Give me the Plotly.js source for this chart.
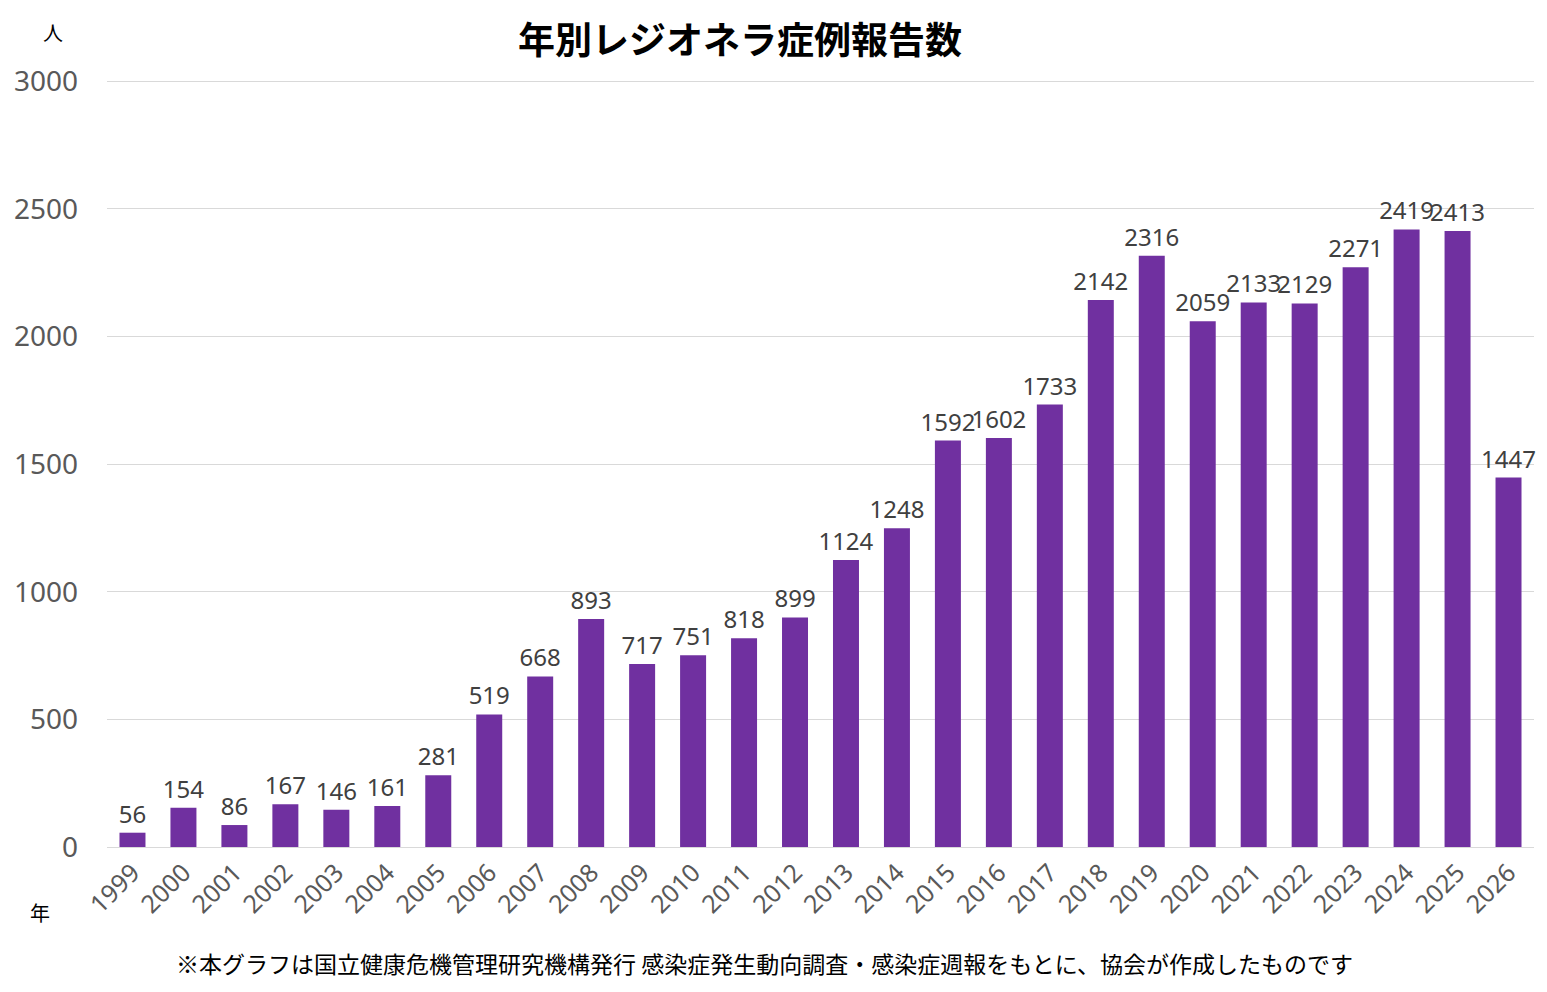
<!DOCTYPE html>
<html>
<head>
<meta charset="utf-8">
<script src="https://cdn.plot.ly/plotly-3.0.1.min.js"></script>
<style>
  html, body { margin: 0; padding: 0; background: #fff; }
  #plot { width: 1547px; height: 992px; }
</style>
</head>
<body>
<div id="plot"></div>
<script>
var years = ['1999','2000','2001','2002','2003','2004','2005','2006','2007','2008',
             '2009','2010','2011','2012','2013','2014','2015','2016','2017','2018',
             '2019','2020','2021','2022','2023','2024','2025','2026'];
var cases = [56, 154, 86, 167, 146, 161, 281, 519, 668, 893,
             717, 751, 818, 899, 1124, 1248, 1592, 1602, 1733, 2142,
             2316, 2059, 2133, 2129, 2271, 2419, 2413, 1447];
var yTicks = [0, 500, 1000, 1500, 2000, 2500, 3000];

var jpFont = '"Noto Sans CJK JP", "Noto Sans", sans-serif';
var numFont = '"Noto Sans", sans-serif';

var trace = {
  x: years,
  y: cases,
  type: 'bar',
  marker: { color: '#7030a0' },
  text: cases.map(String),
  textposition: 'outside',
  constraintext: 'none',
  cliponaxis: false,
  textfont: { family: numFont, size: 24, color: '#404040' },
  hoverinfo: 'x+y'
};

var layout = {
  width: 1547,
  height: 992,
  margin: { l: 107, r: 13, t: 78, b: 145 },
  paper_bgcolor: '#ffffff',
  plot_bgcolor: '#ffffff',
  bargap: 0.49,
  showlegend: false,
  font: { family: jpFont, color: '#595959' },
  xaxis: {
    type: 'category',
    tickangle: -45,
    tickfont: { family: numFont, size: 25, color: '#595959' },
    showgrid: false,
    showline: true,
    linecolor: '#d9d9d9',
    linewidth: 1,
    ticks: ''
  },
  yaxis: {
    range: [0, 3012],
    tickvals: yTicks,
    tickfont: { family: numFont, size: 28, color: '#595959' },
    showgrid: true,
    gridcolor: '#d9d9d9',
    gridwidth: 1,
    zeroline: false,
    showline: false,
    ticks: '',
    ticklabelstandoff: 28
  },
  annotations: [
    {
      text: '<b>年別レジオネラ症例報告数</b>',
      xref: 'paper', yref: 'paper',
      x: 0.4435, y: 1, yshift: 40,
      xanchor: 'center', yanchor: 'middle',
      showarrow: false,
      font: { family: jpFont, size: 37, color: '#000000' }
    },
    {
      text: '人',
      xref: 'paper', yref: 'paper',
      x: 0, xshift: -54, y: 1, yshift: 46,
      xanchor: 'center', yanchor: 'middle',
      showarrow: false,
      font: { family: jpFont, size: 20, color: '#000000' }
    },
    {
      text: '年',
      xref: 'paper', yref: 'paper',
      x: 0, xshift: -67, y: 0, yshift: -65,
      xanchor: 'center', yanchor: 'middle',
      showarrow: false,
      font: { family: jpFont, size: 20, color: '#000000' }
    },
    {
      text: '※本グラフは国立健康危機管理研究機構発行 感染症発生動向調査・感染症週報をもとに、協会が作成したものです',
      xref: 'paper', yref: 'paper',
      x: 0.461, y: 0, yshift: -116,
      xanchor: 'center', yanchor: 'middle',
      showarrow: false,
      font: { family: jpFont, size: 23, color: '#000000' }
    }
  ]
};

Plotly.newPlot('plot', [trace], layout, { displayModeBar: false, responsive: false });
</script>
</body>
</html>
